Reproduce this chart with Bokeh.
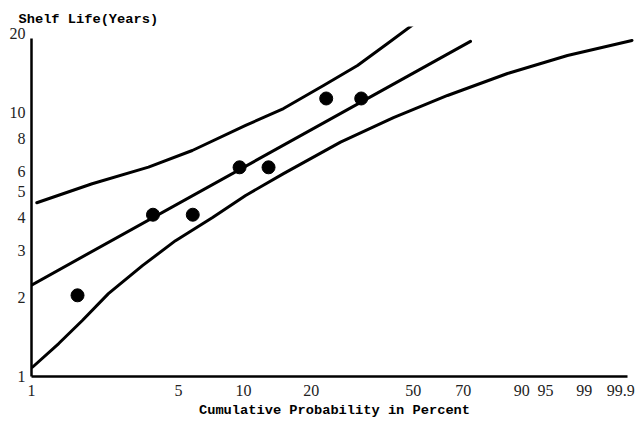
import numpy as np
from bokeh.plotting import figure
from bokeh.models import Range1d, FixedTicker, PrintfTickFormatter
from bokeh.embed import file_html
from bokeh.resources import INLINE

# ---- data (cumulative probability in percent, shelf life in years) ----
point_pct = [1.66, 3.79, 5.83, 9.60, 12.99, 23.18, 32.21]
point_years = [2.03, 4.1, 4.1, 6.2, 6.2, 11.3, 11.3]

fit_pct = [0.99, 72.9]
fit_years = [2.21, 18.6]

upper_pct = [1.06, 1.95, 3.61, 5.80, 10.23, 15.15, 22.58, 31.14, 40.58, 52.40]
upper_years = [4.55, 5.37, 6.21, 7.18, 8.93, 10.35, 12.65, 15.07, 18.25, 22.45]

lower_pct = [1.01, 1.35, 1.75, 2.33, 3.38, 4.84, 7.21, 10.23, 15.15, 26.59,
             42.65, 63.65, 86.03, 97.82, 99.96]
lower_years = [1.084, 1.333, 1.63, 2.06, 2.63, 3.27, 4.00, 4.85, 5.87, 7.72,
               9.57, 11.6, 14.05, 16.44, 18.75]

x_tick_pct = [1, 5, 10, 20, 50, 70, 90, 95, 99, 99.9]
x_tick_labels = ["1", "5", "10", "20", "50", "70", "90", "95", "99", "99.9"]
y_ticks = [1, 2, 3, 4, 5, 6, 8, 10, 20]


def weib(pct):
    """Weibull probability scale: ln(-ln(1-p))."""
    p = np.asarray(pct, dtype=float) / 100.0
    return np.log(-np.log(1.0 - p))


PX_PER_UNIT = 90.2
PX_PER_DECADE = 264.0
FRAME_W = 606
FRAME_BOTTOM = 376
FRAME_TOP = 26

x_left = float(weib([1.0])[0])
x_right = x_left + FRAME_W / PX_PER_UNIT
y_top = 10 ** ((FRAME_BOTTOM - FRAME_TOP) / PX_PER_DECADE)

p = figure(width=637, height=426, y_axis_type="log",
           x_range=Range1d(x_left, x_right), y_range=Range1d(1, y_top),
           output_backend="svg", toolbar_location=None,
           min_border_left=31, min_border_right=0,
           min_border_top=FRAME_TOP, min_border_bottom=426 - FRAME_BOTTOM,
           title="Shelf Life(Years)")

p.background_fill_color = "white"
p.border_fill_color = "white"
p.outline_line_color = None
p.grid.visible = False

p.title.text_font = "Liberation Mono"
p.title.text_font_style = "bold"
p.title.text_font_size = "13.7px"
p.title.text_color = "black"
p.title.align = "left"
p.title.offset = -13
p.title.standoff = 0

# curves
p.line(weib(upper_pct), upper_years, line_color="black", line_width=3, line_join="round", line_cap="round")
p.line(weib(fit_pct), fit_years, line_color="black", line_width=3, line_cap="round")
p.line(weib(lower_pct), lower_years, line_color="black", line_width=3, line_join="round", line_cap="round")
p.scatter(weib(point_pct), point_years, size=13, color="black")

# x axis
tick_z = [float(z) for z in weib(x_tick_pct)]
p.xaxis.ticker = FixedTicker(ticks=tick_z)
p.xaxis.major_label_overrides = {z: lab for z, lab in zip(tick_z, x_tick_labels)}
p.xaxis.bounds = (x_left, float(weib([99.94])[0]))
p.xaxis.axis_label = "Cumulative Probability in Percent"
p.xaxis.axis_label_text_font = "Liberation Mono"
p.xaxis.axis_label_text_font_style = "bold"
p.xaxis.axis_label_text_font_size = "13.7px"
p.xaxis.axis_label_text_color = "black"
p.xaxis.axis_label_standoff = 4
p.xaxis.major_label_standoff = 8

# y axis
p.yaxis.ticker = FixedTicker(ticks=y_ticks)
p.yaxis.formatter = PrintfTickFormatter(format="%d")
p.yaxis.bounds = (1, 19)
p.yaxis.major_label_standoff = 6

for ax in (p.xaxis, p.yaxis):
    ax.axis_line_color = "black"
    ax.axis_line_width = 2.5
    ax.major_tick_line_color = None
    ax.minor_tick_line_color = None
    ax.major_tick_in = 0
    ax.major_tick_out = 0
    ax.major_label_text_font = "Liberation Serif"
    ax.major_label_text_font_size = "16px"
    ax.major_label_text_color = "#222222"

open("out.html", "w").write(file_html(p, INLINE))
